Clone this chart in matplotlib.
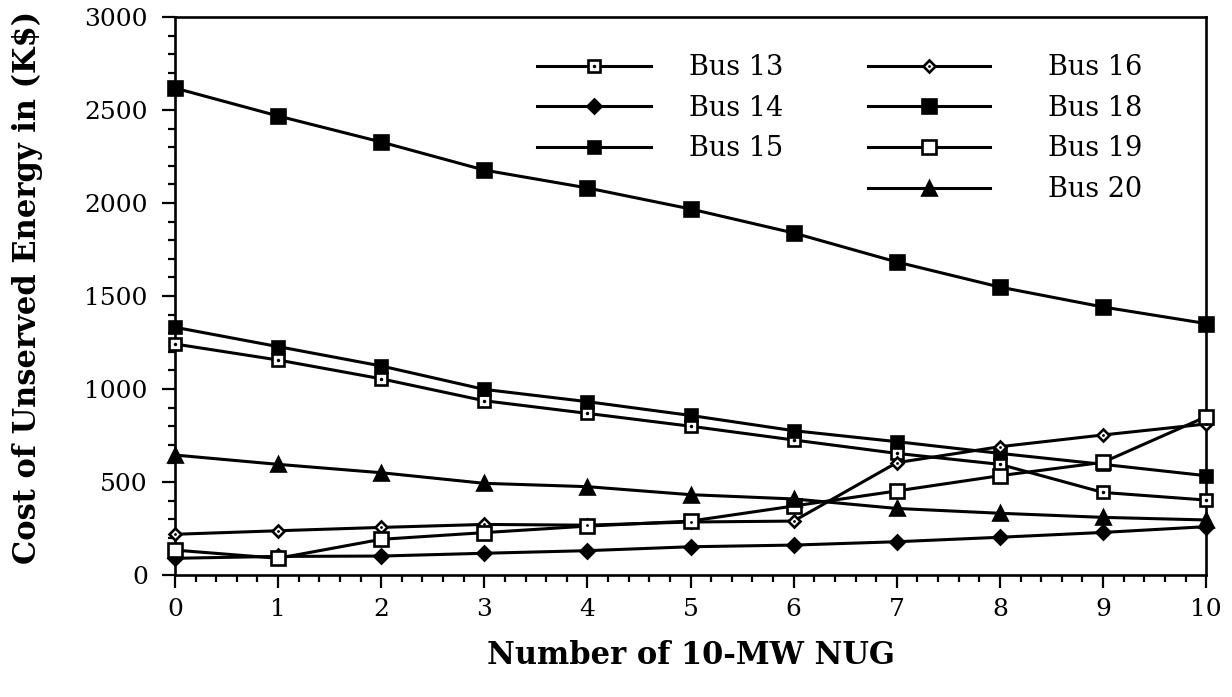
import matplotlib
matplotlib.use("Agg")
import matplotlib.pyplot as plt
from matplotlib.ticker import MultipleLocator

# Number of 10-MW NUG units installed
nug_units = [0, 1, 2, 3, 4, 5, 6, 7, 8, 9, 10]

# Cost of unserved energy (K$) per load bus
bus13 = [1242, 1156, 1055, 937, 869, 800, 726, 654, 595, 444, 403]
bus14 = [90, 100, 102, 117, 131, 152, 161, 179, 203, 229, 260]
bus15 = [1332, 1228, 1124, 998, 932, 858, 776, 717, 654, 595, 534]
bus16 = [219, 238, 256, 272, 268, 285, 290, 604, 690, 753, 812]
bus18 = [2618, 2468, 2328, 2177, 2081, 1968, 1839, 1683, 1548, 1441, 1352]
bus19 = [134, 90, 192, 228, 263, 290, 371, 452, 534, 606, 851]
bus20 = [645, 595, 550, 493, 475, 432, 409, 358, 332, 310, 296]

labels_left = ["Bus 13", "Bus 14", "Bus 15"]
labels_right = ["Bus 16", "Bus 18", "Bus 19", "Bus 20"]

SERIF = "DejaVu Serif"
plt.rcParams["font.family"] = SERIF

fig = plt.figure(figsize=(12.32, 6.97), dpi=100)
ax = fig.add_axes([0.142, 0.175, 0.837, 0.8006])

LW = 2.2
K = "black"
common = dict(color=K, lw=LW, clip_on=False, zorder=3)


def series(y, marker, ms, face, dot=False, dot_ms=2.5):
    line, = ax.plot(nug_units, y, marker=marker, ms=ms, mfc=face, mec=K,
                    mew=1.9, **common)
    if dot:
        d, = ax.plot(nug_units, y, ls="none", marker="o", ms=dot_ms, mfc=K,
                     mec=K, mew=0, clip_on=False, zorder=4)
        return (line, d)
    return line


h13 = series(bus13, "s", 8.5, "white", dot=True)
h14 = series(bus14, "D", 7, K)
h15 = series(bus15, "s", 9, K)
h16 = series(bus16, "D", 6.5, "white", dot=True, dot_ms=2)
h18 = series(bus18, "s", 10.5, K)
h19 = series(bus19, "s", 10, "white")
h20 = series(bus20, "^", 9.5, K)

ax.set_xlim(0, 10)
ax.set_ylim(0, 3000)
ax.xaxis.set_major_locator(MultipleLocator(1))
ax.xaxis.set_minor_locator(MultipleLocator(0.2))
ax.yaxis.set_major_locator(MultipleLocator(500))
ax.yaxis.set_minor_locator(MultipleLocator(100))

for side in ("left", "right", "top", "bottom"):
    ax.spines[side].set_linewidth(1.9)
ax.tick_params(which="both", direction="out", top=False, right=False,
               width=1.6, color=K)
ax.tick_params(which="major", length=9.5, labelsize=18)
ax.tick_params(which="minor", length=5)
ax.tick_params(axis="y", which="major", pad=10)
ax.tick_params(axis="x", which="major", pad=7)

ax.set_xlabel("Number of 10-MW NUG", fontsize=22, fontweight="bold",
              family=SERIF)
ax.set_ylabel("Cost of Unserved Energy in (K$)", fontsize=22,
              fontweight="bold", family=SERIF)
ax.xaxis.set_label_coords(0.5, -0.117)
ax.yaxis.set_label_coords(-0.128, 0.515)

leg_kw = dict(loc="upper left", frameon=False, fontsize=19.5, borderpad=0,
              labelspacing=0.5, borderaxespad=0)
leg1 = ax.legend([h13, h14, h15], labels_left,
                 bbox_to_anchor=(0.351, 0.933), handlelength=4.2,
                 handletextpad=1.4, **leg_kw)
ax.add_artist(leg1)
ax.legend([h16, h18, h19, h20], labels_right,
          bbox_to_anchor=(0.672, 0.933), handlelength=4.5,
          handletextpad=2.15, **leg_kw)

fig.savefig("out.png", dpi=100)
